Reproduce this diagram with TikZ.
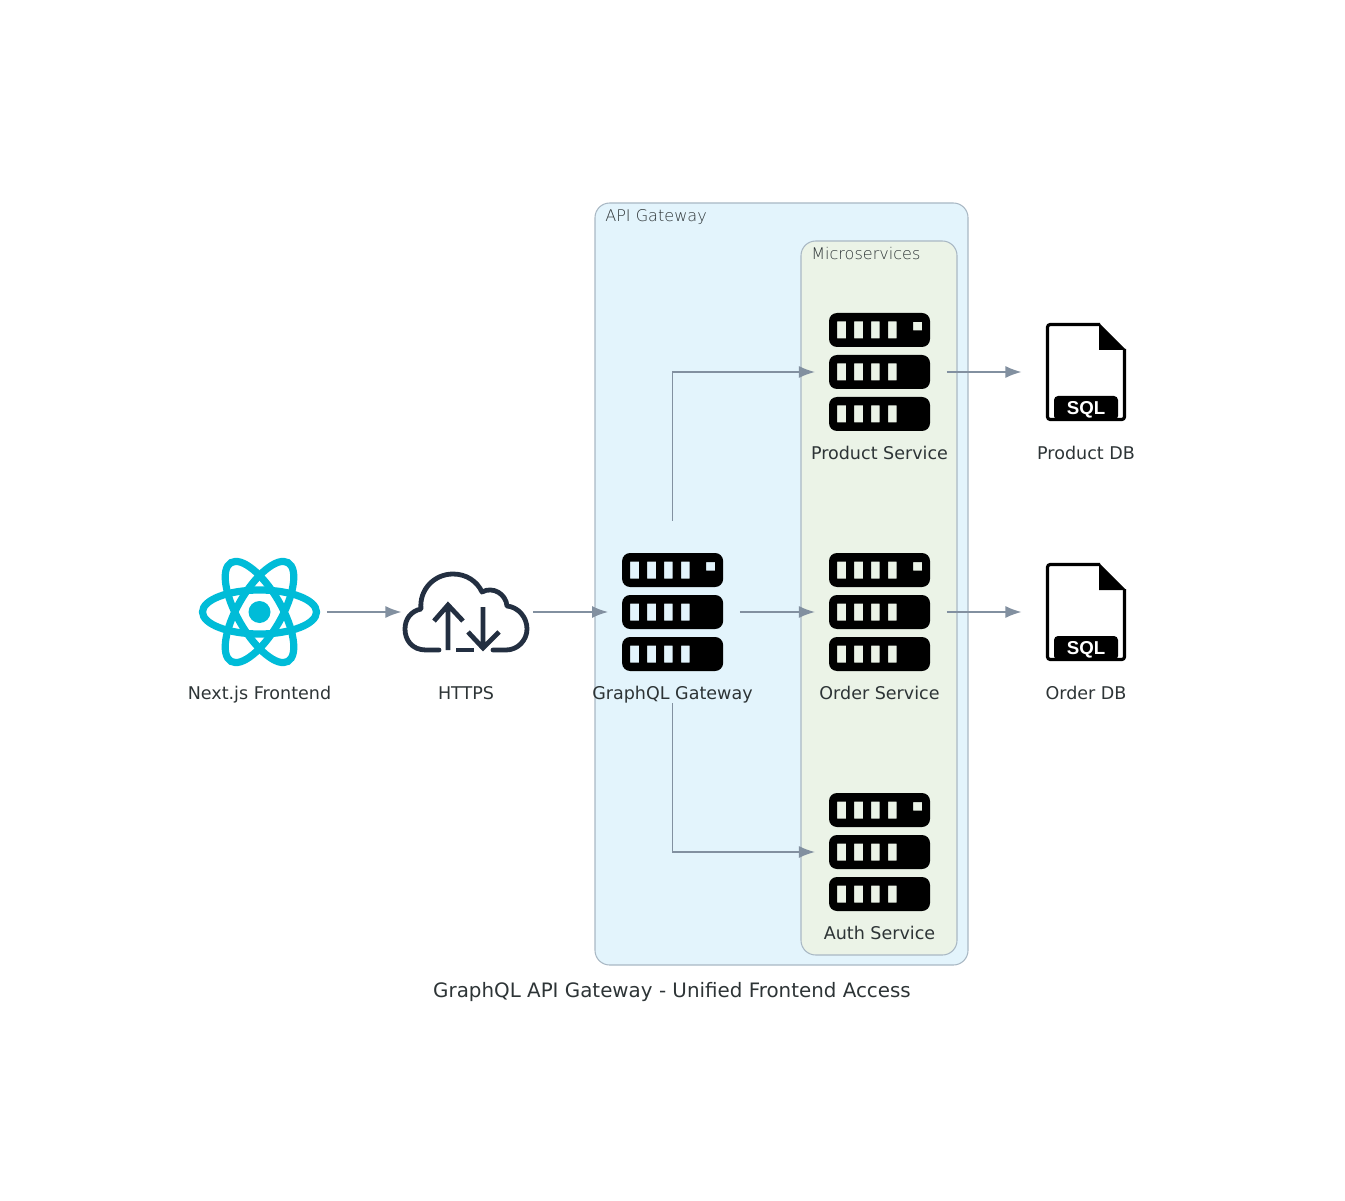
\documentclass[tikz,border=0pt]{standalone}
\usepackage{fontspec}
\setmainfont{DejaVu Sans}
\newfontfamily\sqlfont{Liberation Sans}
\newfontfamily\thinfont{DejaVu Sans ExtraLight}
\usetikzlibrary{arrows.meta}
\definecolor{gatewayfill}{HTML}{E3F4FC}
\definecolor{servicefill}{HTML}{EBF3E7}
\definecolor{clusterline}{HTML}{A9B8C4}
\definecolor{arrowgray}{HTML}{8290A0}
\definecolor{labelgray}{HTML}{2D3436}
\definecolor{reactcyan}{HTML}{00BCD8}
\definecolor{cloudnavy}{HTML}{232F41}
\tikzset{
  x=0.75pt,y=-0.75pt,
  box/.style={inner sep=0pt,minimum width=100.5pt,minimum height=136.5pt},
  lbl/.style={anchor=base,text=labelgray,font=\fontsize{13.15}{15}\selectfont},
  clusterlbl/.style={anchor=base west,text=labelgray,inner sep=0pt,font=\thinfont\fontsize{12.05}{14}\selectfont},
  flow/.style={draw=arrowgray,line width=1pt,shorten >=-2pt,-{Latex[length=12pt,width=9pt]}},
  server/.pic={
    \fill[black,even odd rule]
      [rounded corners=6pt] (-50.5,-59) rectangle (50.5,-25) (-50.5,-17) rectangle (50.5,17) (-50.5,25) rectangle (50.5,59)
      [sharp corners]
      (-42.5,-50.5) rectangle (-33.5,-33.5) (-25.5,-50.5) rectangle (-16.5,-33.5)
      (-8.5,-50.5) rectangle (0,-33.5) (8.5,-50.5) rectangle (17,-33.5) (33.5,-50) rectangle (42.5,-41.5)
      (-42.5,-8.5) rectangle (-33.5,8.5) (-25.5,-8.5) rectangle (-16.5,8.5)
      (-8.5,-8.5) rectangle (0,8.5) (8.5,-8.5) rectangle (17,8.5)
      (-42.5,33.5) rectangle (-33.5,50.5) (-25.5,33.5) rectangle (-16.5,50.5)
      (-8.5,33.5) rectangle (0,50.5) (8.5,33.5) rectangle (17,50.5);
  },
  sqlfile/.pic={
    \draw[black,line width=2.4pt,line join=round,rounded corners=2pt]
      (14,-47.5) -- (-38.5,-47.5) -- (-38.5,47.5) -- (38.5,47.5) -- (38.5,-23);
    \fill[black] (13,-49) -- (40,-22) -- (13,-22) -- cycle;
    \fill[black,rounded corners=3pt] (-32,48) -- (-32,24) -- (32,24) -- (32,48) -- cycle;
    \node[text=white,inner sep=0pt,font=\sqlfont\bfseries\fontsize{14}{14}\selectfont] at (0,38) {SQL};
  },
  reactlogo/.pic={
    \draw[reactcyan,line width=5.4pt] (0,0) ellipse [x radius=57,y radius=22];
    \draw[reactcyan,line width=5.4pt,rotate=60] (0,0) ellipse [x radius=57,y radius=22];
    \draw[reactcyan,line width=5.4pt,rotate=-60] (0,0) ellipse [x radius=57,y radius=22];
    \fill[reactcyan] (0,0) circle [radius=11];
  },
  cloudlogo/.pic={
    \draw[cloudnavy,line width=3.6pt,line cap=round,line join=round]
      (-27,38) -- (-40,38) .. controls (-54,38) and (-61,28) .. (-61,17)
      .. controls (-61,7) and (-55,-1) .. (-45,-3)
      .. controls (-47,-22) and (-32,-38) .. (-13,-38)
      .. controls (0,-38) and (11,-31) .. (16,-20)
      .. controls (27,-26) and (40,-18) .. (41,-6)
      .. controls (52,-5) and (61,5) .. (61,17)
      .. controls (61,28) and (52,38) .. (40,38) -- (27,38);
    \draw[cloudnavy,line width=3.6pt] (-10,38) -- (8,38);
    \draw[cloudnavy,line width=3.6pt] (-18,38) -- (-18,-6) (-32,9) -- (-18,-7) -- (-3,9);
    \draw[cloudnavy,line width=3.6pt] (17,-5) -- (17,37) (2,20) -- (17,36) -- (33,20);
  },
}
\begin{document}
\begin{tikzpicture}
  \useasboundingbox (0,0) rectangle (1345,1201);
  % clusters
  \node (gatewaybox) at (781.5,584) [draw=clusterline,fill=gatewayfill,rounded corners=11pt,line width=0.8pt,minimum width=279.75pt,minimum height=571.5pt,inner sep=0pt] {};
  \node (servicebox) at (879,598) [draw=clusterline,fill=servicefill,rounded corners=11pt,line width=0.8pt,minimum width=117pt,minimum height=535.5pt,inner sep=0pt] {};
  \node (gatewaytitle) at (605,222) [clusterlbl] {API Gateway};
  \node (servicetitle) at (811,260) [clusterlbl] {Microservices};

  % icons
  \node (frontend) at (259.5,612) [box] {};
  \node (https) at (466,612) [box] {};
  \node (graphql) at (672.6,612) [box] {};
  \node (product) at (879.5,372) [box] {};
  \node (order) at (879.5,612) [box] {};
  \node (auth) at (879.5,852) [box] {};
  \node (productdb) at (1086,372) [box] {};
  \node (orderdb) at (1086,612) [box] {};
  \pic at (frontend) {reactlogo};
  \pic at (https) {cloudlogo};
  \pic at (graphql) {server};
  \pic at (product) {server};
  \pic at (order) {server};
  \pic at (auth) {server};
  \pic at (productdb) {sqlfile};
  \pic at (orderdb) {sqlfile};

  % labels
  \node (frontendlbl) at (259.5,699.5) [lbl] {Next.js Frontend};
  \node (httpslbl) at (466,699.5) [lbl] {HTTPS};
  \node (graphqllbl) at (672.5,699.5) [lbl] {GraphQL Gateway};
  \node (productlbl) at (879.5,459.5) [lbl] {Product Service};
  \node (orderlbl) at (879.5,699.5) [lbl] {Order Service};
  \node (authlbl) at (879.5,939.5) [lbl] {Auth Service};
  \node (productdblbl) at (1086,459.5) [lbl] {Product DB};
  \node (orderdblbl) at (1086,699.5) [lbl] {Order DB};
  \node (title) at (672,997.5) [anchor=base,text=labelgray,font=\fontsize{14.9}{18}\selectfont] {GraphQL API Gateway - Unified Frontend Access};

  % connectors
  \draw [flow] (frontend) to (https);
  \draw [flow] (https) to (graphql);
  \draw [flow] (graphql) to (order);
  \draw [flow] (graphql.north) |- (product.west);
  \draw [flow] (graphql.south) |- (auth.west);
  \draw [flow] (product) to (productdb);
  \draw [flow] (order) to (orderdb);
\end{tikzpicture}
\end{document}
